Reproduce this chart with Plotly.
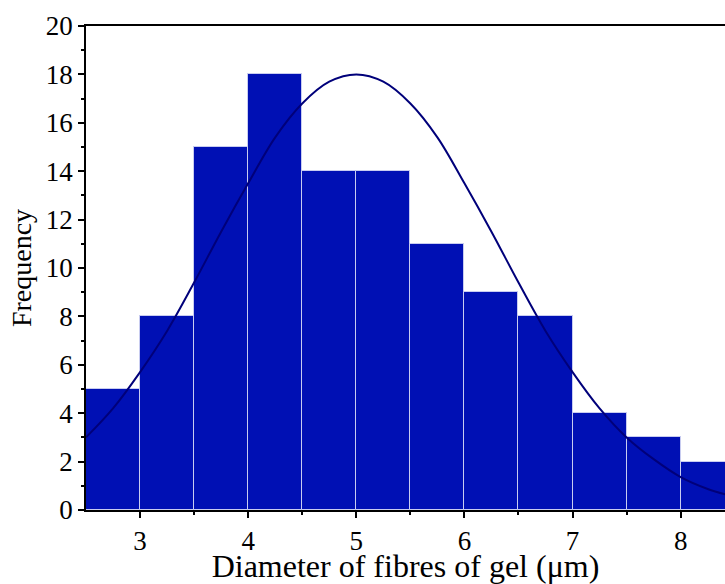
import plotly.graph_objects as go

bin_centers = [2.75, 3.25, 3.75, 4.25, 4.75, 5.25, 5.75, 6.25, 6.75, 7.25, 7.75, 8.25]
frequency = [5, 8, 15, 18, 14, 14, 11, 9, 8, 4, 3, 2]

curve_x = [2.5, 2.75, 3.0, 3.25, 3.5, 3.75, 4.0, 4.25, 4.5, 4.75, 5.0, 5.25, 5.5, 5.75,
           6.0, 6.25, 6.5, 6.75, 7.0, 7.25, 7.5, 7.75, 8.0, 8.25, 8.5]
curve_y = [3.0, 4.2, 5.7, 7.4, 9.4, 11.5, 13.5, 15.4, 16.8, 17.7, 18.0, 17.7, 16.8, 15.4,
           13.5, 11.5, 9.4, 7.4, 5.7, 4.2, 3.0, 2.1, 1.36, 0.87, 0.54]

x_tickvals = [3, 4, 5, 6, 7, 8]
y_tickvals = [0, 2, 4, 6, 8, 10, 12, 14, 16, 18, 20]

fig = go.Figure()
fig.add_trace(go.Bar(
    x=bin_centers, y=frequency, width=0.5,
    marker=dict(color="#0010B4", line=dict(color="#C8CCF0", width=1)),
    showlegend=False,
))
fig.add_trace(go.Scatter(
    x=curve_x, y=curve_y, mode="lines",
    line=dict(color="#00007A", width=2, shape="spline"),
    showlegend=False,
))

font = "Liberation Serif, Times New Roman, serif"
fig.update_layout(
    width=725, height=584,
    margin=dict(l=86, r=0, t=26, b=74),
    paper_bgcolor="white", plot_bgcolor="white",
    bargap=0,
    font=dict(family=font, size=27, color="black"),
    xaxis=dict(
        range=[2.5, 8.41], tickvals=x_tickvals, ticks="outside", ticklen=6,
        tickwidth=1.5, tickcolor="black", showline=True, linecolor="black",
        linewidth=1.5, mirror=True, showgrid=False, zeroline=False,
        minor=dict(tickvals=[3.5, 4.5, 5.5, 6.5, 7.5], ticks="outside", ticklen=3,
                   tickwidth=1.5, tickcolor="black"),
        title=dict(text="Diameter of fibres of gel (μm)", font=dict(size=32), standoff=3),
        tickfont=dict(size=27),
    ),
    yaxis=dict(
        range=[0, 20], tickvals=y_tickvals, ticks="outside", ticklen=6,
        tickwidth=1.5, tickcolor="black", showline=True, linecolor="black",
        linewidth=1.5, showgrid=False, zeroline=False,
        minor=dict(tickvals=[1, 3, 5, 7, 9, 11, 13, 15, 17, 19], ticks="outside",
                   ticklen=3, tickwidth=1.5, tickcolor="black"),
        title=dict(text="Frequency", font=dict(size=28), standoff=6),
        tickfont=dict(size=27),
    ),
)

fig.write_html(
    "out.html",
    config={"displayModeBar": False},
    post_script="document.body.style.margin='0';document.body.style.overflow='hidden';",
)
